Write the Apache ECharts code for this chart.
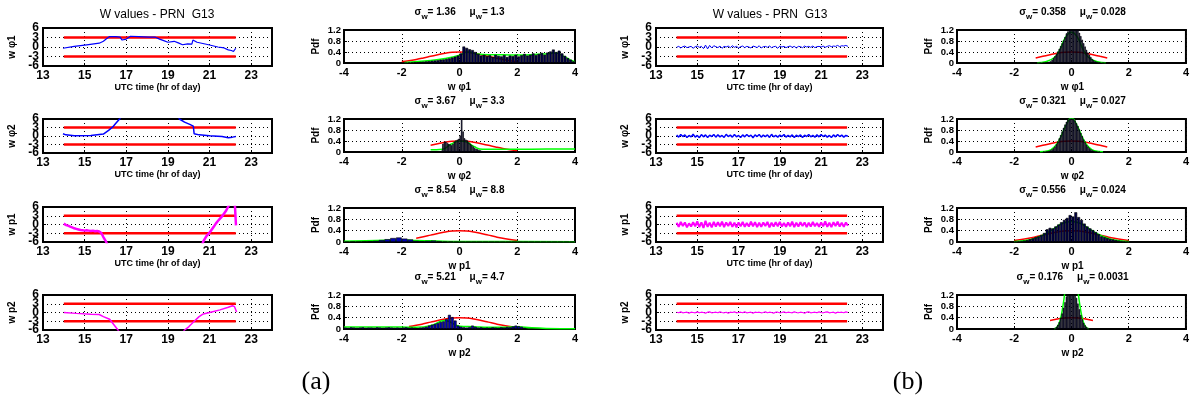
<!DOCTYPE html>
<html><head><meta charset="utf-8">
<script src="https://cdn.jsdelivr.net/npm/echarts@6/dist/echarts.min.js"></script>
<style>html,body{margin:0;padding:0;background:#fff}#c{width:1192px;height:398px}</style>
</head><body><div id="c"></div>
<script>
// ---------------- DATA ----------------
const rowNames = ['w \u03c61', 'w \u03c62', 'w p1', 'w p2'];
const figTitle = 'W values - PRN  G13';
const limT = [14.0, 22.26];
const limV = [3, -3];
const tsInnerTicks = [3, -3];

// (a) time series
const a1T = [13.96,14.5,15.1,15.7,15.9,16.05,16.2,16.5,16.7,16.8,17.0,17.2,17.6,18.1,18.4,18.6,18.8,19.0,19.3,19.5,19.7,19.95,20.15,20.2,20.4,20.9,21.4,21.7,21.9,22.05,22.15,22.26];
const a1V = [-0.4,0.2,0.7,1.2,1.8,2.6,3.3,3.3,3.1,2.2,2.5,3.4,3.3,3.1,3.1,2.5,2.0,1.5,1.8,1.3,0.7,1.0,0.9,2.2,1.5,0.8,0.0,-0.3,-0.9,-1.1,-1.4,-0.4];
const a2T = [13.96,14.1,14.5,15.3,15.9,16.15,16.35,16.5,16.7,16.9,19.4,19.55,19.8,20.05,20.22,20.26,20.5,21.0,21.6,21.9,22.1,22.26];
const a2V = [0.8,0.4,0.1,0.2,0.7,2.0,3.2,4.5,6.2,9,9,6.0,4.9,4.1,3.5,0.8,0.4,0.1,-0.2,-0.6,-0.4,-0.2];
const a3T = [14.0,14.05,14.1,14.15,14.2,14.25,14.3,14.35,14.4,14.45,14.5,14.55,14.6,14.65,14.7,14.75,14.8,14.85,14.9,14.95,
  15.0,15.05,15.1,15.15,15.2,15.25,15.3,15.35,15.4,15.45,15.5,15.55,15.6,15.65,15.7,15.75,15.8,15.85,15.9,16.0,16.1,16.25,
  20.55,20.7,20.85,21.0,21.1,21.2,21.3,21.4,21.5,21.6,21.7,21.8,21.9,22.0,22.2,22.26,22.27];
const a3V = [0.3,0.1,-0.2,-0.5,-0.4,-0.9,-0.7,-1.2,-1.0,-1.5,-1.3,-1.8,-1.5,-2.0,-1.7,-2.2,-1.9,-2.3,-2.0,-2.4,
  -2.1,-2.5,-2.0,-2.4,-2.1,-2.6,-2.2,-2.5,-2.1,-2.7,-2.3,-2.6,-2.2,-2.8,-2.4,-2.7,-2.9,-3.5,-4.3,-5.5,-7.0,-9,
  -9,-5.8,-4.0,-2.8,-1.8,-0.8,0.3,1.2,2.0,2.8,3.8,4.8,6.2,8,9,9,-0.3];
const a4T = [14.0,14.6,15.3,15.7,15.9,16.2,16.35,16.6,16.8,19.6,19.8,20.0,20.25,20.5,20.7,21.1,21.5,21.9,22.1,22.2,22.25,22.3];
const a4V = [0,-0.3,-0.6,-0.7,-1.4,-2.3,-3.7,-6,-8,-8,-6,-4.9,-3.1,-1.4,-0.5,0.2,0.9,1.8,2.3,2.0,1.4,0.2];

// (b) time series (sampled every 0.1 h)
const bT = [14.0,14.1,14.2,14.3,14.4,14.5,14.6,14.7,14.8,14.9,
  15.0,15.1,15.2,15.3,15.4,15.5,15.6,15.7,15.8,15.9,
  16.0,16.1,16.2,16.3,16.4,16.5,16.6,16.7,16.8,16.9,
  17.0,17.1,17.2,17.3,17.4,17.5,17.6,17.7,17.8,17.9,
  18.0,18.1,18.2,18.3,18.4,18.5,18.6,18.7,18.8,18.9,
  19.0,19.1,19.2,19.3,19.4,19.5,19.6,19.7,19.8,19.9,
  20.0,20.1,20.2,20.3,20.4,20.5,20.6,20.7,20.8,20.9,
  21.0,21.1,21.2,21.3,21.4,21.5,21.6,21.7,21.8,21.9,
  22.0,22.1,22.2,22.3];
const b1V = [-0.1,0.2,-0.3,0.1,0.3,-0.2,0.0,0.2,-0.4,0.1,
  0.3,-0.1,0.2,-0.5,0.6,-0.6,0.5,-0.3,0.4,0.1,
  -0.2,0.3,-0.4,0.2,0.0,0.3,-0.2,0.4,-0.1,0.2,
  -0.3,0.1,0.3,-0.2,0.2,0.0,-0.3,0.3,0.1,-0.2,
  0.4,-0.3,0.1,0.2,-0.1,0.3,-0.2,0.1,0.2,-0.4,
  0.3,0.0,0.2,-0.2,0.1,0.3,-0.1,0.2,-0.3,0.2,
  0.1,-0.2,0.3,0.0,0.2,-0.1,0.3,-0.2,0.1,0.2,
  0.0,0.3,-0.1,0.2,0.4,0.1,0.3,0.2,0.5,0.1,
  0.4,0.3,0.5,0.2];
const b2V = [0.3,-0.4,0.5,-0.2,0.4,-0.5,0.2,-0.3,0.6,-0.4,
  0.2,-0.6,0.5,-0.3,0.4,-0.5,0.3,-0.2,0.5,-0.4,
  0.4,-0.3,0.2,-0.5,0.6,-0.2,0.3,-0.4,0.5,-0.3,
  0.2,-0.5,0.4,-0.3,0.5,-0.2,0.3,-0.6,0.4,-0.2,
  0.5,-0.4,0.3,-0.2,0.4,-0.5,0.6,-0.3,0.2,-0.4,
  0.3,-0.2,0.5,-0.4,0.2,-0.3,0.4,-0.5,0.3,-0.2,
  0.4,-0.5,0.3,-0.2,0.5,-0.3,0.2,-0.4,0.4,-0.3,
  0.5,-0.2,0.3,-0.4,0.2,-0.5,0.4,-0.3,0.5,-0.2,
  0.3,-0.4,0.2,-0.1];
const b3V = [0.6,-0.8,0.9,-0.5,0.7,-1.0,0.4,-0.7,0.8,-0.6,
  1.1,-0.9,0.7,-1.2,1.3,-0.8,0.6,-1.0,0.9,-0.7,
  0.8,-0.6,1.0,-0.9,0.7,-0.5,0.9,-0.8,0.6,-1.0,
  0.7,-0.6,0.9,-0.8,0.5,-0.7,1.0,-0.6,0.8,-0.9,
  0.6,-0.8,0.7,-0.5,0.9,-1.0,0.6,-0.7,0.8,-0.6,
  0.9,-0.7,0.5,-0.8,0.7,-0.6,1.0,-0.9,0.6,-0.7,
  0.8,-0.5,0.7,-0.9,0.6,-0.7,0.9,-0.6,0.5,-0.8,
  0.7,-0.6,1.1,-0.8,0.6,-0.9,0.8,-0.5,1.0,-0.7,
  0.6,-0.8,0.7,-0.4];
const b4V = [0.1,-0.1,0.2,-0.1,0.0,0.1,-0.2,0.1,0.0,-0.1,
  0.2,-0.1,0.1,0.0,-0.2,0.1,0.2,-0.1,0.0,0.1,
  -0.1,0.2,0.0,-0.1,0.1,-0.2,0.1,0.0,0.2,-0.1,
  0.0,0.1,-0.1,0.2,-0.1,0.0,0.1,-0.2,0.1,0.0,
  0.1,-0.1,0.0,0.2,-0.1,0.1,0.0,-0.2,0.1,0.1,
  -0.1,0.0,0.2,-0.1,0.1,0.0,-0.1,0.2,0.0,-0.1,
  0.1,0.0,-0.2,0.1,0.2,-0.1,0.0,0.1,-0.1,0.2,
  0.0,-0.1,0.1,0.2,-0.1,0.0,0.1,-0.2,0.1,0.0,
  0.1,-0.1,0.2,0.0];

// histogram statistics (titles)
const sigA = ['1.36', '3.67', '8.54', '5.21'];
const muA  = ['1.3', '3.3', '8.8', '4.7'];
const sigB = ['0.358', '0.321', '0.556', '0.176'];
const muB  = ['0.028', '0.027', '0.024', '0.0031'];

// histograms: first bin centre, bin width, bar heights
const ha1Start = -1.85, ha1Bin = 0.1;
const ha1 = [0.01,0.02,0.02,0.03,0.03,0.04,0.05,0.06,0.07,
  0.08,0.09,0.1,0.12,0.13,0.15,0.17,0.2,0.23,0.27,
  0.35,0.6,0.55,0.5,0.47,0.4,0.33,0.27,0.3,0.25,
  0.28,0.22,0.3,0.26,0.24,0.29,0.22,0.27,0.25,0.3,
  0.24,0.28,0.33,0.27,0.3,0.35,0.29,0.33,0.37,0.3,
  0.38,0.42,0.49,0.4,0.45,0.35,0.26,0.18,0.12,0.06];
const ha2Start = -0.625, ha2Bin = 0.05;
const ha2 = [0.05,0.3,0.36,0.38,0.33,0.3,0.28,0.25,0.3,0.38,
  0.42,0.45,0.48,0.6,1.2,0.75,0.5,0.45,0.42,0.35,
  0.3,0.25,0.2,0.15,0.12,0.1,0.08,0.06,0.04];
const ha3Start = -3.9, ha3Bin = 0.2;
const ha3 = [0.01,0.02,0.01,0.02,0.03,0.04,0.07,0.1,0.14,0.16,
  0.12,0.09,0.04,0.03,0.04,0.05,0.03,0.02,0.02,0.01,
  0.01,0.01,0.01,0.01,0.01,0.01,0.01,0.01,0.01,0.01,
  0.01,0.01,0.01,0.01,0.01,0.01,0.01,0.01,0.01,0.01];
const ha4Start = -3.95, ha4Bin = 0.1;
const ha4 = [0.05,0.04,0.06,0.05,0.04,0.05,0.06,0.04,0.05,0.05,
  0.04,0.06,0.05,0.04,0.05,0.06,0.05,0.04,0.05,0.04,
  0.05,0.06,0.04,0.05,0.04,0.03,0.05,0.06,0.08,0.12,
  0.15,0.18,0.21,0.25,0.27,0.35,0.5,0.42,0.3,0.12,
  0.08,0.06,0.05,0.07,0.12,0.08,0.05,0.06,0.04,0.05,
  0.04,0.06,0.05,0.04,0.06,0.05,0.07,0.06,0.09,0.12,
  0.1,0.08,0.04];
const hb1Start = -1.175, hb1Bin = 0.05;
const hb1 = [0.01,0.01,0.02,0.01,0.02,0.03,0.02,0.04,0.05,0.07,
  0.12,0.18,0.25,0.33,0.42,0.52,0.62,0.72,0.82,0.95,
  1.08,1.15,1.2,1.2,1.2,1.2,1.2,1.2,1.2,1.1,
  0.98,0.85,0.72,0.6,0.48,0.38,0.3,0.22,0.15,0.1,
  0.07,0.05,0.04,0.03,0.02,0.02,0.01,0.01];
const hb2Start = -0.975, hb2Bin = 0.05;
const hb2 = [0.01,0.02,0.02,0.03,0.05,0.07,0.1,0.14,0.2,0.28,
  0.38,0.5,0.62,0.75,0.88,1.0,1.1,1.18,1.2,1.2,
  1.2,1.2,1.15,1.05,0.95,0.82,0.7,0.58,0.46,0.36,
  0.27,0.2,0.14,0.1,0.07,0.05,0.03,0.02,0.02,0.01];
const hb3Start = -1.95, hb3Bin = 0.1;
const hb3 = [0.02,0.03,0.04,0.05,0.07,0.1,0.13,0.17,0.2,0.25,
  0.32,0.45,0.5,0.48,0.55,0.62,0.7,0.78,0.85,0.95,
  0.9,1.05,0.88,0.78,0.65,0.55,0.48,0.42,0.35,0.28,
  0.2,0.17,0.14,0.11,0.09,0.07,0.05,0.04,0.03,0.02];
const hb4Start = -0.625, hb4Bin = 0.05;
const hb4 = [0.02,0.04,0.08,0.15,0.25,0.4,0.55,0.75,0.95,1.15,
  1.2,1.2,1.2,1.2,1.2,1.2,1.1,0.9,0.7,0.5,
  0.35,0.22,0.13,0.07,0.04,0.02];

// red reference pdf and its drawn range per panel
const nX = [-2,-1.75,-1.5,-1.25,-1,-0.75,-0.5,-0.25,0,0.25,0.5,0.75,1,1.25,1.5,1.75,2];
const nY = [0.054,0.086,0.13,0.183,0.242,0.301,0.352,0.387,0.399,0.387,0.352,0.301,0.242,0.183,0.13,0.086,0.054];
const redRangeA = [[-2,2],[-1,2],[-1.5,2],[-1.75,2]];
const redRangeB = [[-1.25,1.25],[-1.25,1.25],[-2,2],[-0.75,0.75]];

// green density curves
const ga1X = [-1.9,-1,-0.5,0,0.3,0.6,1.0,1.5,2.0,2.5,3.0,3.3,3.6,3.9,4.0];
const ga1Y = [0.02,0.09,0.16,0.28,0.4,0.33,0.3,0.3,0.29,0.3,0.33,0.36,0.25,0.08,0.05];
const ga2X = [-1,-0.6,-0.3,0,0.2,0.5,0.8,1.5,2.5,3.5,4];
const ga2Y = [0.08,0.1,0.28,0.4,0.38,0.2,0.1,0.1,0.1,0.11,0.11];
const ga3X = [-4,-2.5,-2,-1.5,-1,0,2,4];
const ga3Y = [0.03,0.06,0.07,0.05,0.04,0.02,0.015,0.01];
const ga4X = [-4,-3,-2,-1.5,-1,-0.5,0,0.5,1,1.5,2,2.5,3,4];
const ga4Y = [0.07,0.07,0.07,0.06,0.12,0.3,0.1,0.08,0.06,0.06,0.08,0.04,0.02,0.01];
const gb1X = [-1.2,-0.9,-0.6,-0.4,-0.2,0,0.2,0.4,0.6,0.9,1.2];
const gb1Y = [0.01,0.05,0.2,0.5,0.95,1.12,0.95,0.5,0.2,0.05,0.01];
const gb2X = [-1.1,-0.8,-0.6,-0.4,-0.2,0,0.2,0.4,0.6,0.8,1.1];
const gb2Y = [0.01,0.05,0.18,0.5,0.95,1.24,0.95,0.5,0.18,0.05,0.01];
const gb3X = [-2,-1.5,-1,-0.6,-0.3,0,0.3,0.6,1,1.5,2];
const gb3Y = [0.02,0.07,0.24,0.48,0.66,0.72,0.66,0.48,0.24,0.07,0.02];
const gb4X = [-0.6,-0.5,-0.4,-0.3,-0.2,-0.1,0,0.1,0.2,0.3,0.4,0.5,0.6];
const gb4Y = [0.01,0.07,0.3,0.8,1.5,2.0,2.2,2.0,1.5,0.8,0.3,0.07,0.01];

// ---------------- LAYOUT / STYLE ----------------
const FONT = '"Liberation Sans", Arial, Helvetica, sans-serif';
const tsCols = [{left: 43, width: 229}, {left: 656, width: 227}];
const hCols = [{left: 344, width: 231}, {left: 957, width: 231}];
const tsRows = [{top: 28, height: 38}, {top: 119, height: 34}, {top: 207, height: 35}, {top: 295, height: 35}];
const hRows = [{top: 30, height: 33}, {top: 119, height: 33}, {top: 208, height: 34}, {top: 295, height: 34}];

const option = {animation: false, grid: [], xAxis: [], yAxis: [], series: [], graphic: []};

function zip(xs, ys) { const n = Math.min(xs.length, ys.length); const o = []; for (let i = 0; i < n; i++) o.push([xs[i], ys[i]]); return o; }

function addGrid(left, top, width, height) {
  option.grid.push({left, top, width, height, show: true, borderColor: '#000', borderWidth: 2, backgroundColor: 'transparent'});
  return option.grid.length - 1;
}
const dotted = {show: true, lineStyle: {color: '#000', type: [1, 3], width: 1}};
function axisCommon(g, fs) {
  return {gridIndex: g, type: 'value',
    axisLine: {show: true, onZero: false, lineStyle: {color: '#000', width: 2}},
    axisTick: {show: true, inside: true, length: 3, lineStyle: {color: '#000'}},
    axisLabel: {color: '#000', fontFamily: FONT, fontWeight: 'bold', fontSize: fs, margin: 4,
      hideOverlap: false, showMinLabel: true, showMaxLabel: true},
    splitLine: dotted};
}
function text(x, y, str, font, extra) {
  option.graphic.push(Object.assign({type: 'text', x, y, silent: true,
    style: {text: str, font, fill: '#000', textAlign: 'center', textVerticalAlign: 'middle'}}, extra || {}));
}
function richTitle(x, y, s, m) {
  option.graphic.push({type: 'text', x, y, silent: true, style: {
    text: '{t|\u03c3}{s|w}{t|= ' + s + '     \u03bc}{s|w}{t|= ' + m + '}',
    textAlign: 'center', textVerticalAlign: 'middle',
    rich: {t: {fontFamily: FONT, fontWeight: 'bold', fontSize: 10, fill: '#000', lineHeight: 12, verticalAlign: 'top'},
           s: {fontFamily: FONT, fontWeight: 'bold', fontSize: 8, fill: '#000', lineHeight: 14, verticalAlign: 'bottom'}}}});
}

function tsPanel(col, row, T, V, color, lw, xName) {
  const c = tsCols[col], r = tsRows[row];
  const g = addGrid(c.left, r.top, c.width, r.height);
  const xa = axisCommon(g, 12); xa.axisLabel.showMaxLabel = false;
  option.xAxis.push(Object.assign(xa, {min: 13, max: 24, interval: 2}));
  const yMain = option.yAxis.length;
  option.yAxis.push(Object.assign(axisCommon(g, 12), {min: -6, max: 6, interval: 3}));
  // overlay axis that only prints the inner tick labels (the main axis drops them where they collide)
  option.yAxis.push({gridIndex: g, type: 'value', min: -6, max: 6, interval: 3, position: 'left',
    axisLine: {show: false}, axisTick: {show: false}, splitLine: {show: false},
    axisLabel: {color: '#000', fontFamily: FONT, fontWeight: 'bold', fontSize: 12, margin: 4, hideOverlap: false,
      formatter: v => (tsInnerTicks.indexOf(v) >= 0 ? String(v) : '')}});
  limV.forEach(v => option.series.push({type: 'line', xAxisIndex: g, yAxisIndex: yMain, silent: true, z: 2,
    data: limT.map(t => [t, v]), showSymbol: false, lineStyle: {color: '#ff0000', width: 2.5}}));
  option.series.push({type: 'line', xAxisIndex: g, yAxisIndex: yMain, silent: true, clip: true, z: 3,
    data: zip(T, V), showSymbol: false, lineStyle: {color, width: lw}});
  text(c.left - 31, r.top + r.height / 2, rowNames[row], 'bold 10px ' + FONT, {rotation: Math.PI / 2});
  if (xName) text(c.left + c.width / 2, r.top + r.height + 22, 'UTC time (hr of day)', 'bold 9px ' + FONT);
}

function histPanel(col, row, start, bin, H, gX, gY, range, s, m, barColor) {
  const c = hCols[col], r = hRows[row];
  const g = addGrid(c.left, r.top, c.width, r.height);
  option.xAxis.push(Object.assign(axisCommon(g, 11), {min: -4, max: 4, interval: 2}));
  const yi = option.yAxis.length;
  const ya = axisCommon(g, 9.5); ya.axisLabel.margin = 3;
  option.yAxis.push(Object.assign(ya, {min: 0, max: 1.2, interval: 0.4}));
  const red = [];
  nX.forEach((x, i) => { if (x >= range[0] && x <= range[1]) red.push([x, nY[i]]); });
  option.series.push({type: 'line', xAxisIndex: g, yAxisIndex: yi, silent: true, data: red, smooth: true, z: 1,
    showSymbol: false, lineStyle: {color: '#ff0000', width: 1.5}});
  option.series.push({type: 'line', xAxisIndex: g, yAxisIndex: yi, silent: true, data: zip(gX, gY), smooth: true, z: 1,
    showSymbol: false, lineStyle: {color: '#00ff00', width: 1.5}});
  option.series.push({type: 'bar', xAxisIndex: g, yAxisIndex: yi, silent: true, clip: true, z: 5,
    data: H.map((h, i) => [start + i * bin, h]),
    barWidth: c.width / 8 * bin,
    itemStyle: {color: barColor, borderColor: '#000', borderWidth: 0.6}});
  richTitle(c.left + c.width / 2, r.top - 16, s, m);
  text(c.left + c.width / 2, r.top + r.height + 24, rowNames[row], 'bold 10px ' + FONT);
  text(c.left - 28, r.top + r.height / 2, 'Pdf', 'bold 10px ' + FONT, {rotation: Math.PI / 2});
}

const DARK = '#000045', BLUE = '#0000b0';
// (a)
tsPanel(0, 0, a1T, a1V, '#0000ff', 1.2, true);
tsPanel(0, 1, a2T, a2V, '#0000ff', 1.5, true);
tsPanel(0, 2, a3T, a3V, '#ff00ff', 2.5, true);
tsPanel(0, 3, a4T, a4V, '#ff00ff', 1.5, false);
histPanel(0, 0, ha1Start, ha1Bin, ha1, ga1X, ga1Y, redRangeA[0], sigA[0], muA[0], DARK);
histPanel(0, 1, ha2Start, ha2Bin, ha2, ga2X, ga2Y, redRangeA[1], sigA[1], muA[1], DARK);
histPanel(0, 2, ha3Start, ha3Bin, ha3, ga3X, ga3Y, redRangeA[2], sigA[2], muA[2], BLUE);
histPanel(0, 3, ha4Start, ha4Bin, ha4, ga4X, ga4Y, redRangeA[3], sigA[3], muA[3], BLUE);
// (b)
tsPanel(1, 0, bT, b1V, '#0000ff', 1, true);
tsPanel(1, 1, bT, b2V, '#0000ff', 1.5, true);
tsPanel(1, 2, bT, b3V, '#ff00ff', 2, true);
tsPanel(1, 3, bT, b4V, '#ff00ff', 1.2, false);
histPanel(1, 0, hb1Start, hb1Bin, hb1, gb1X, gb1Y, redRangeB[0], sigB[0], muB[0], DARK);
histPanel(1, 1, hb2Start, hb2Bin, hb2, gb2X, gb2Y, redRangeB[1], sigB[1], muB[1], DARK);
histPanel(1, 2, hb3Start, hb3Bin, hb3, gb3X, gb3Y, redRangeB[2], sigB[2], muB[2], DARK);
histPanel(1, 3, hb4Start, hb4Bin, hb4, gb4X, gb4Y, redRangeB[3], sigB[3], muB[3], DARK);

text(157, 15, figTitle, '12px ' + FONT);
text(770, 15, figTitle, '12px ' + FONT);
text(316, 382, '(a)', '26px "Liberation Serif", "Times New Roman", serif');
text(908, 382, '(b)', '26px "Liberation Serif", "Times New Roman", serif');

const chart = echarts.init(document.getElementById('c'), null, {renderer: 'canvas'});
chart.setOption(option);
</script></body></html>
